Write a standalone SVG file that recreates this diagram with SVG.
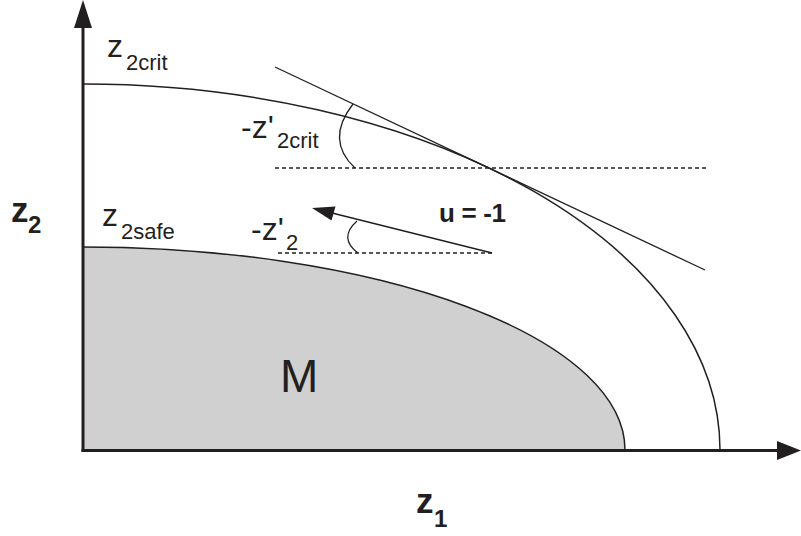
<svg xmlns="http://www.w3.org/2000/svg" width="801" height="536" viewBox="0 0 801 536">
<style>
text{font-family:"Liberation Sans",Arial,sans-serif;fill:#231f20}
.m{font-size:32px}
.s{font-size:22px}
.b{font-weight:bold}
.ln{fill:none;stroke:#231f20;stroke-width:1.5}
.th{fill:none;stroke:#231f20;stroke-width:1.3}
.ds{fill:none;stroke:#231f20;stroke-width:1.3;stroke-dasharray:4 3}
.ax{fill:none;stroke:#231f20;stroke-width:3}
.hd{fill:#231f20}
</style>
<rect width="801" height="536" fill="#ffffff"/>
<g id="region-M">
<path d="M83 450 L83 247 A542 203 0 0 1 625 450 Z" fill="#d0d0d0"/>
<path class="ln" d="M83 247 A542 203 0 0 1 625 450"/>
<text x="280" y="392" style="font-size:46px">M</text>
</g>
<g id="curve-crit">
<path class="ln" d="M83 84 A637 366 0 0 1 720 450"/>
</g>
<g id="connectors">
<line class="th" x1="275" y1="67" x2="705" y2="270"/>
<line class="ds" x1="275" y1="168" x2="706" y2="168"/>
<path class="th" d="M353 104 Q325 140 355 168"/>
<line class="ds" x1="278" y1="253" x2="492" y2="253"/>
<path class="th" d="M357 221 Q338 238 358 253"/>
<line class="ln" x1="492" y1="253" x2="330" y2="212.5"/>
<polygon class="hd" points="312,208 335.5,206.5 331.5,220.5"/>
</g>
<g id="axes">
<line class="ax" x1="83" y1="452" x2="83" y2="25"/>
<polygon class="hd" points="83,0 74,28 92,28"/>
<line class="ax" x1="81.5" y1="450.5" x2="779" y2="450.5"/>
<polygon class="hd" points="801,450.5 777,441 777,460"/>
</g>
<g id="label-z2crit">
<text class="m" x="107" y="57">z</text>
<text class="s" x="126" y="70">2crit</text>
</g>
<g id="label-z2safe">
<text class="m" x="102" y="226">z</text>
<text class="s" x="121" y="239">2safe</text>
</g>
<g id="label-dz2crit">
<text class="m" x="241" y="138">-z'</text>
<text class="s" x="277" y="148">2crit</text>
</g>
<g id="label-dz2">
<text class="m" x="251" y="240">-z'</text>
<text class="s" x="286" y="250">2</text>
</g>
<g id="label-u">
<text class="b" x="439" y="222" style="font-size:26px" textLength="67" lengthAdjust="spacing">u = -1</text>
</g>
<g id="label-z2">
<text class="b" x="11" y="222" style="font-size:35px">z</text>
<text class="b" x="28" y="233" style="font-size:24px">2</text>
</g>
<g id="label-z1">
<text class="b" x="416" y="513" style="font-size:35px">z</text>
<text class="b" x="434" y="527" style="font-size:24px">1</text>
</g>
</svg>
